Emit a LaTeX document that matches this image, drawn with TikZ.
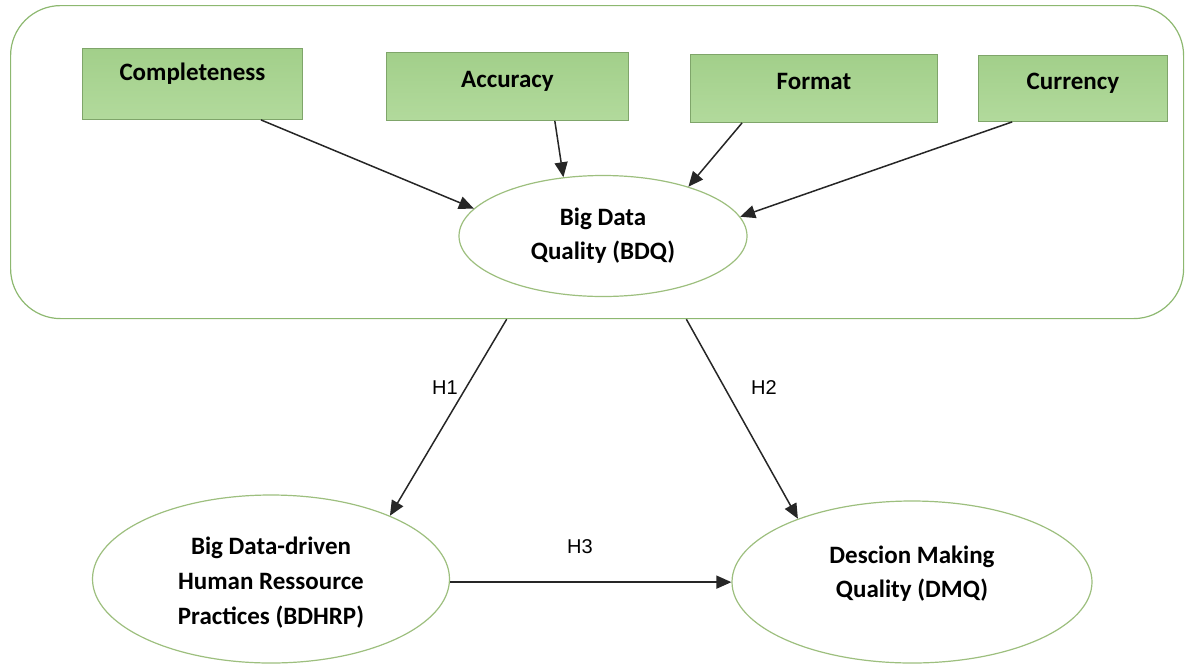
\documentclass[tikz,border=0pt]{standalone}
\usepackage{fontspec}
\setmainfont{Carlito}
\newfontfamily\labelfont{Liberation Sans}
\usetikzlibrary{shapes.geometric,arrows.meta,calc}
\definecolor{boxtop}{HTML}{A2CF8A}
\definecolor{boxbot}{HTML}{B2DA9C}
\definecolor{boxline}{HTML}{7FA56A}
\definecolor{ellline}{HTML}{9DBF7E}
\definecolor{frameline}{HTML}{8DB870}
\tikzset{
  dimbox/.style={draw=boxline, line width=0.9pt, top color=boxtop, bottom color=boxbot,
    font=\fontsize{25}{30}\selectfont\bfseries, inner sep=0pt, anchor=north west},
  construct/.style={ellipse, draw=ellline, line width=1.2pt, fill=white, inner sep=0pt,
    font=\fontsize{25}{34}\selectfont\bfseries, align=center},
  link/.style={draw=black!85, line width=1.5pt, -{Triangle[length=15pt,width=13pt]}},
  hyp/.style={font=\labelfont\fontsize{20}{24}\selectfont, inner sep=0pt}
}
\begin{document}
\begin{tikzpicture}[x=1pt,y=-1pt]
\useasboundingbox (0,0) rectangle (1186,665);
% frame
\node[draw=frameline, line width=1.2pt, rounded corners=50pt, minimum width=1173pt, minimum height=313pt, anchor=north west, inner sep=0pt] (frame) at (10,5) {};
% dimension boxes
\node[dimbox, minimum width=220pt, text height=32pt, text depth=39pt] (comp) at (82,48) {\makebox[220pt]{Completeness}};
\node[dimbox, minimum width=242pt, text height=35pt, text depth=33pt] (acc) at (386,52) {\makebox[242pt]{Accuracy}};
\node[dimbox, minimum width=247pt, text height=35pt, text depth=33pt] (fmt) at (690,54) {\makebox[247pt]{Format}};
\node[dimbox, minimum width=189pt, text height=34pt, text depth=32pt] (cur) at (978,55) {\makebox[189pt]{Currency}};
% constructs
\node[construct, minimum width=288pt, minimum height=121pt] (bdq) at (603,236) {Big Data\\Quality (BDQ)};
\node[construct, minimum width=357pt, minimum height=168pt, font=\fontsize{25}{35}\selectfont\bfseries] (bdhrp) at (271,579) {\rule{0pt}{25pt}Big Data-driven\\Human Ressource\\Practices (BDHRP)};
\node[construct, minimum width=360pt, minimum height=162pt] (dmq) at (912,582) {Descion Making\\Quality (DMQ)\\[-14pt]\mbox{}};
% arrows into BDQ
\draw[link] ($(comp.south west)!0.81!(comp.south east)$) -- (bdq.168);
\draw[link] ($(acc.south west)!0.695!(acc.south east)$) -- (bdq.124);
\draw[link] ($(fmt.south west)!0.21!(fmt.south east)$) -- (bdq.30);
\draw[link] ($(cur.south west)!0.18!(cur.south east)$) -- (bdq.8);
% hypotheses
\draw[link] ($(frame.south west)!0.423!(frame.south east)$) -- (bdhrp.28);
\draw[link] ($(frame.south west)!0.576!(frame.south east)$) -- (dmq.151);
\draw[link] (bdhrp.-1) -- (bdhrp.-1 -| dmq.west);
\node[hyp] (h1) at (445,388) {H1};
\node[hyp] (h2) at (764,388) {H2};
\node[hyp] (h3) at (580,547) {H3};
\end{tikzpicture}
\end{document}
